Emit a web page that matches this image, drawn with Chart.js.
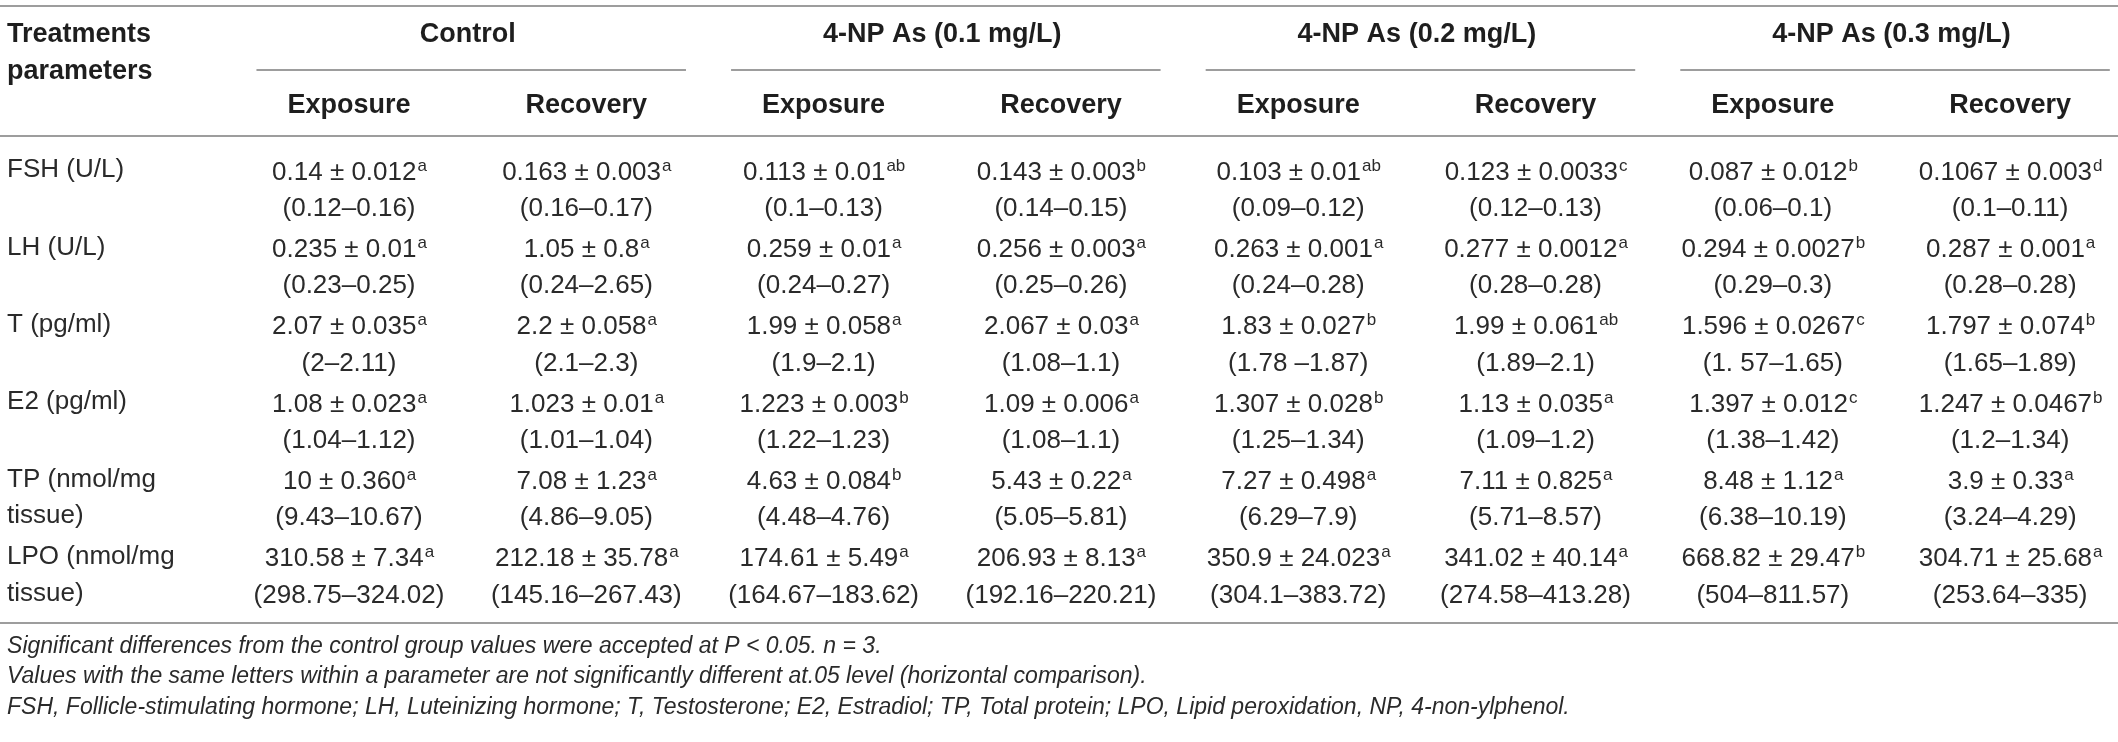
<!DOCTYPE html>
<html>
<head>
<meta charset="utf-8">
<script src="https://cdn.jsdelivr.net/npm/chart.js@4.4.1/dist/chart.umd.min.js"></script>
<style>
  html, body { margin: 0; padding: 0; background: #fff; }
  #tabela { display: block; }
</style>
</head>
<body>
<canvas id="tabela" width="2118" height="742"></canvas>
<script>
// linhas da tabela (parâmetros) e cabeçalhos
const parametros = [['FSH (U/L)'], ['LH (U/L)'], ['T (pg/ml)'], ['E2 (pg/ml)'],
  ['TP (nmol/mg', 'tissue)'], ['LPO (nmol/mg', 'tissue)']];
const grupos = ['Control', '4-NP As (0.1 mg/L)', '4-NP As (0.2 mg/L)', '4-NP As (0.3 mg/L)'];
const fases = ['Exposure', 'Recovery'];

// cada coluna: [média, desvio, letra, intervalo] por parâmetro
const controlExposure = [
  ['0.14', '0.012', 'a', '(0.12–0.16)'],
  ['0.235', '0.01', 'a', '(0.23–0.25)'],
  ['2.07', '0.035', 'a', '(2–2.11)'],
  ['1.08', '0.023', 'a', '(1.04–1.12)'],
  ['10', '0.360', 'a', '(9.43–10.67)'],
  ['310.58', '7.34', 'a', '(298.75–324.02)']
];
const controlRecovery = [
  ['0.163', '0.003', 'a', '(0.16–0.17)'],
  ['1.05', '0.8', 'a', '(0.24–2.65)'],
  ['2.2', '0.058', 'a', '(2.1–2.3)'],
  ['1.023', '0.01', 'a', '(1.01–1.04)'],
  ['7.08', '1.23', 'a', '(4.86–9.05)'],
  ['212.18', '35.78', 'a', '(145.16–267.43)']
];
const np01Exposure = [
  ['0.113', '0.01', 'ab', '(0.1–0.13)'],
  ['0.259', '0.01', 'a', '(0.24–0.27)'],
  ['1.99', '0.058', 'a', '(1.9–2.1)'],
  ['1.223', '0.003', 'b', '(1.22–1.23)'],
  ['4.63', '0.084', 'b', '(4.48–4.76)'],
  ['174.61', '5.49', 'a', '(164.67–183.62)']
];
const np01Recovery = [
  ['0.143', '0.003', 'b', '(0.14–0.15)'],
  ['0.256', '0.003', 'a', '(0.25–0.26)'],
  ['2.067', '0.03', 'a', '(1.08–1.1)'],
  ['1.09', '0.006', 'a', '(1.08–1.1)'],
  ['5.43', '0.22', 'a', '(5.05–5.81)'],
  ['206.93', '8.13', 'a', '(192.16–220.21)']
];
const np02Exposure = [
  ['0.103', '0.01', 'ab', '(0.09–0.12)'],
  ['0.263', '0.001', 'a', '(0.24–0.28)'],
  ['1.83', '0.027', 'b', '(1.78 –1.87)'],
  ['1.307', '0.028', 'b', '(1.25–1.34)'],
  ['7.27', '0.498', 'a', '(6.29–7.9)'],
  ['350.9', '24.023', 'a', '(304.1–383.72)']
];
const np02Recovery = [
  ['0.123', '0.0033', 'c', '(0.12–0.13)'],
  ['0.277', '0.0012', 'a', '(0.28–0.28)'],
  ['1.99', '0.061', 'ab', '(1.89–2.1)'],
  ['1.13', '0.035', 'a', '(1.09–1.2)'],
  ['7.11', '0.825', 'a', '(5.71–8.57)'],
  ['341.02', '40.14', 'a', '(274.58–413.28)']
];
const np03Exposure = [
  ['0.087', '0.012', 'b', '(0.06–0.1)'],
  ['0.294', '0.0027', 'b', '(0.29–0.3)'],
  ['1.596', '0.0267', 'c', '(1. 57–1.65)'],
  ['1.397', '0.012', 'c', '(1.38–1.42)'],
  ['8.48', '1.12', 'a', '(6.38–10.19)'],
  ['668.82', '29.47', 'b', '(504–811.57)']
];
const np03Recovery = [
  ['0.1067', '0.003', 'd', '(0.1–0.11)'],
  ['0.287', '0.001', 'a', '(0.28–0.28)'],
  ['1.797', '0.074', 'b', '(1.65–1.89)'],
  ['1.247', '0.0467', 'b', '(1.2–1.34)'],
  ['3.9', '0.33', 'a', '(3.24–4.29)'],
  ['304.71', '25.68', 'a', '(253.64–335)']
];
const colunas = [controlExposure, controlRecovery, np01Exposure, np01Recovery,
  np02Exposure, np02Recovery, np03Exposure, np03Recovery];

const notas = [
  'Significant differences from the control group values were accepted at P < 0.05. n = 3.',
  'Values with the same letters within a parameter are not significantly different at.05 level (horizontal comparison).',
  'FSH, Follicle-stimulating hormone; LH, Luteinizing hormone; T, Testosterone; E2, Estradiol; TP, Total protein; LPO, Lipid peroxidation, NP, 4-non-ylphenol.'
];

// posições (em unidades de linha/coluna das escalas)
const pos = {
  linhaTopo: -2.119, grupo: -1.744, sublinha: -1.292, param2: -1.266,
  fase: -0.827, linhaCab: -0.439, linhaFim: 5.853, notas: [6.163, 6.55, 6.94],
  rotulo: -1.441, entreLinhas: 0.47
};

const FONTE = '"Liberation Sans", Arial, Helvetica, sans-serif';

// plugin que escreve a tabela usando as escalas do gráfico
const desenhaTabela = {
  id: 'desenhaTabela',
  afterDatasetsDraw(chart) {
    const ctx = chart.ctx;
    const sx = chart.scales.x, sy = chart.scales.y;
    const px = v => sx.getPixelForValue(v);
    const py = v => sy.getPixelForValue(v);
    const gap = py(pos.entreLinhas) - py(0);
    ctx.save();

    // linhas horizontais
    ctx.strokeStyle = '#9d9d9d';
    ctx.lineWidth = 2;
    [pos.linhaTopo, pos.linhaCab, pos.linhaFim].forEach(v => {
      ctx.beginPath();
      ctx.moveTo(0, Math.round(py(v)));
      ctx.lineTo(chart.width, Math.round(py(v)));
      ctx.stroke();
    });
    grupos.forEach((g, i) => {
      ctx.beginPath();
      ctx.moveTo(px(2 * i - 0.39), Math.round(py(pos.sublinha)));
      ctx.lineTo(px(2 * i + 1.42), Math.round(py(pos.sublinha)));
      ctx.stroke();
    });

    // cabeçalho
    ctx.fillStyle = '#1e1e1e';
    ctx.textBaseline = 'middle';
    ctx.font = 'bold 27px ' + FONTE;
    ctx.textAlign = 'left';
    ctx.fillText('Treatments', px(pos.rotulo), py(pos.grupo));
    ctx.fillText('parameters', px(pos.rotulo), py(pos.param2));
    ctx.textAlign = 'center';
    grupos.forEach((g, i) => ctx.fillText(g, px(2 * i + 0.5), py(pos.grupo)));
    colunas.forEach((c, i) => ctx.fillText(fases[i % 2], px(i), py(pos.fase)));

    // rótulos das linhas
    ctx.fillStyle = '#2a2a2a';
    ctx.font = '26px ' + FONTE;
    ctx.textAlign = 'left';
    parametros.forEach((p, r) => {
      p.forEach((t, k) => ctx.fillText(t, px(pos.rotulo), py(r) + k * gap));
    });

    // células, a partir dos pontos de cada dataset
    ctx.textBaseline = 'alphabetic';
    chart.data.datasets.forEach((ds, c) => {
      const meta = chart.getDatasetMeta(c);
      meta.data.forEach((el, r) => {
        const cel = ds.celulas[r];
        const principal = cel[0] + ' \u00b1 ' + cel[1];
        ctx.font = '26px ' + FONTE;
        const w1 = ctx.measureText(principal).width;
        ctx.font = '17px ' + FONTE;
        const w2 = ctx.measureText(cel[2]).width;
        const x0 = el.x - (w1 + w2) / 2;
        ctx.textAlign = 'left';
        ctx.font = '26px ' + FONTE;
        ctx.fillText(principal, x0, el.y + 9.5);
        ctx.font = '17px ' + FONTE;
        ctx.fillText(cel[2], x0 + w1 + 1, el.y + 0.5);
        ctx.font = '26px ' + FONTE;
        ctx.textAlign = 'center';
        ctx.fillText(cel[3], el.x, el.y + gap + 9.5);
      });
    });

    // notas de rodapé
    ctx.font = 'italic 23px ' + FONTE;
    ctx.textAlign = 'left';
    ctx.textBaseline = 'middle';
    notas.forEach((n, i) => ctx.fillText(n, px(pos.rotulo), py(pos.notas[i])));
    ctx.restore();
  }
};

new Chart(document.getElementById('tabela'), {
  type: 'scatter',
  data: {
    datasets: colunas.map((col, c) => ({
      label: grupos[Math.floor(c / 2)] + ' ' + fases[c % 2],
      data: col.map((v, r) => ({ x: c, y: r })),
      celulas: col,
      pointRadius: 0,
      pointHoverRadius: 0
    }))
  },
  options: {
    responsive: false,
    animation: false,
    events: [],
    layout: { padding: 0 },
    plugins: { legend: { display: false }, tooltip: { enabled: false } },
    scales: {
      x: { type: 'linear', display: false, min: -1.4707, max: 7.4545 },
      y: { type: 'linear', display: false, reverse: true, min: -2.1964, max: 7.3902 }
    }
  },
  plugins: [desenhaTabela]
});
</script>
</body>
</html>
